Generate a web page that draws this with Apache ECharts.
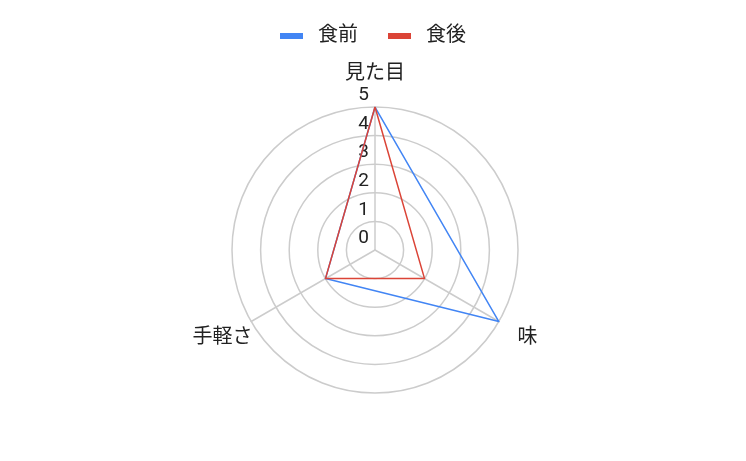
<!DOCTYPE html>
<html>
<head>
<meta charset="utf-8">
<script src="https://cdn.jsdelivr.net/npm/echarts@6/dist/echarts.min.js"></script>
<style>html,body{margin:0;padding:0;background:#fff}#c{width:746px;height:461px}</style>
</head>
<body>
<div id="c"></div>
<script>
// indicators listed in ECharts drawing order (counter-clockwise from top)
var indicators = ['見た目', '手軽さ', '味'];
var seriesNames = ['食前', '食後'];
var before = [5, 2, 5];
var after = [5, 2, 2];
var maxValue = 5;

var chart = echarts.init(document.getElementById('c'));
var font = 'Roboto, "Noto Sans CJK JP", sans-serif';
chart.setOption({
  animation: false,
  color: ['#4285F4', '#DB4437'],
  legend: {
    top: 21,
    left: 'center',
    itemWidth: 23,
    itemHeight: 6,
    itemGap: 30,
    icon: 'rect',
    textStyle: { fontSize: 20, color: '#222', fontFamily: font, padding: [0, 0, 0, 10] },
    data: seriesNames
  },
  radar: {
    center: [375, 250],
    radius: 143,
    shape: 'circle',
    splitNumber: 5,
    startAngle: 90,
    axisName: { color: '#222', fontSize: 20, fontFamily: font, align: 'center', verticalAlign: 'middle' },
    nameGap: 33,
    splitLine: { lineStyle: { color: '#cccccc', width: 1.5 } },
    splitArea: { show: false },
    axisLine: { lineStyle: { color: '#cccccc', width: 1.5 } },
    axisTick: { show: false },
    axisLabel: {
      show: true, showMinLabel: true, showMaxLabel: true,
      color: '#222', fontSize: 19, fontFamily: font,
      margin: 6, verticalAlign: 'bottom', padding: [0, 0, 2, 0]
    },
    indicator: indicators.map(function (n, i) {
      var o = { name: n, min: 0, max: maxValue };
      if (i > 0) o.axisLabel = { show: false };
      return o;
    })
  },
  series: [{
    type: 'radar',
    symbol: 'none',
    data: [
      { name: seriesNames[0], value: before, lineStyle: { width: 1.5, color: '#4285F4' } },
      { name: seriesNames[1], value: after, lineStyle: { width: 1.5, color: '#DB4437' } }
    ]
  }]
});
</script>
</body>
</html>
